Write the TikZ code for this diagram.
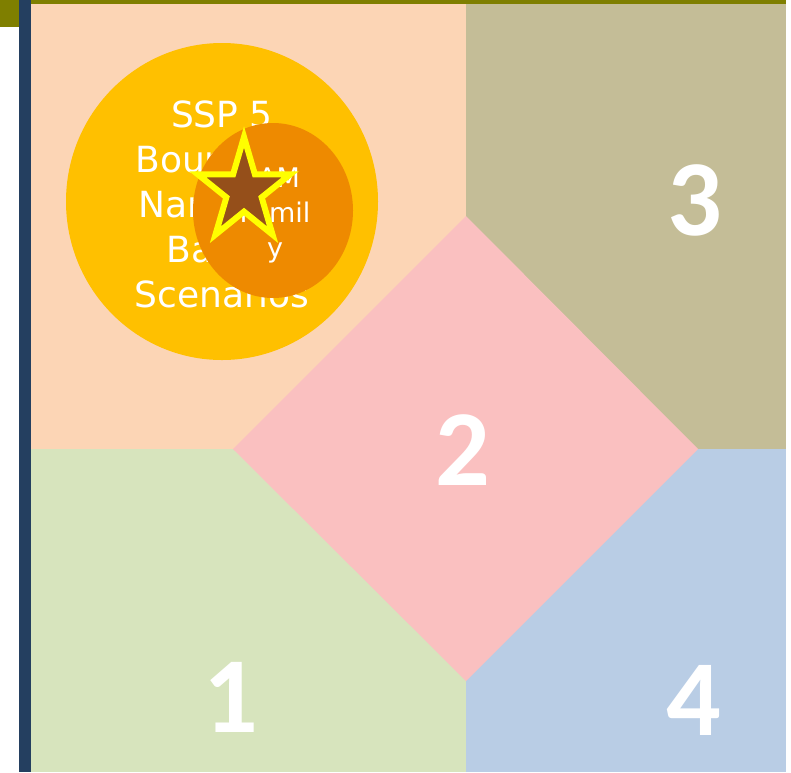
\documentclass[tikz,border=0pt]{standalone}
\usepackage{fontspec}
\setmainfont{DejaVu Sans}
\newfontfamily\numfont{Carlito}
\usepackage{tikz}

\definecolor{olivebar}{HTML}{7F7F00}
\definecolor{navybar}{HTML}{243F60}
\definecolor{peach}{HTML}{FCD5B5}
\definecolor{tanbox}{HTML}{C4BD97}
\definecolor{greenbox}{HTML}{D7E4BD}
\definecolor{bluebox}{HTML}{B9CDE5}
\definecolor{pinkbox}{HTML}{FAC0C0}
\definecolor{sspgold}{HTML}{FFC000}
\definecolor{iamorange}{HTML}{EE8A00}
\definecolor{starbrown}{HTML}{954F1A}
\definecolor{staryellow}{HTML}{FFFF00}

\tikzset{
	number/.style={text=white,inner sep=0pt,font=\numfont\bfseries\fontsize{108}{108}\selectfont},
	circletext/.style={text=white,inner sep=0pt,align=center}
}

\begin{document}
\begin{tikzpicture}[x=1pt,y=-1pt]
		\useasboundingbox (0,0) rectangle (791,772);
		\fill [white] (0,0) rectangle (791,772);
		
		% four quarters and the diamond
		\fill [peach] (31,4) rectangle (466,449);
		\fill [tanbox] (466,4) rectangle (786,449);
		\fill [greenbox] (31,449) rectangle (466,772);
		\fill [bluebox] (466,449) rectangle (786,772);
		\fill [pinkbox] (233,449) -- (466,216) -- (698,449) -- (466,681) -- cycle;
		
		% frame bars
		\fill [olivebar] (0,0) rectangle (786,4);
		\fill [olivebar] (0,0) rectangle (19,27);
		\fill [navybar] (19,0) rectangle (31,772);
		
		% circles
		\fill [sspgold] (222,201.5) ellipse [x radius=156,y radius=158.5];
		\node [circletext,font=\fontsize{36}{45}\selectfont] (ssp) at (222,204) {SSP 5\\Boundary\\Narrative\\Based\\Scenarios};
		\fill [iamorange] (273,210.5) ellipse [x radius=80,y radius=87.5];
		\node [circletext,font=\fontsize{27}{35}\selectfont] (iam) at (275,215.5) {IAM\\Famil\\y};
		
		\begin{scope}[shift={(244,191)},xscale=0.9]
			\filldraw [fill=starbrown,draw=staryellow,line width=6pt] (270:54)
				\foreach \a in {0,...,3} { -- ({306+72*\a}:20.6) -- ({342+72*\a}:54) } -- (594:20.6) -- cycle;
		\end{scope}
		
		% numbers
		\node [number] (one) at (231,697) {1};
		\node [number] (two) at (463,450) {2};
		\node [number] (three) at (695,200) {3};
		\node [number] (four) at (694,700) {4};
\end{tikzpicture}
\end{document}
